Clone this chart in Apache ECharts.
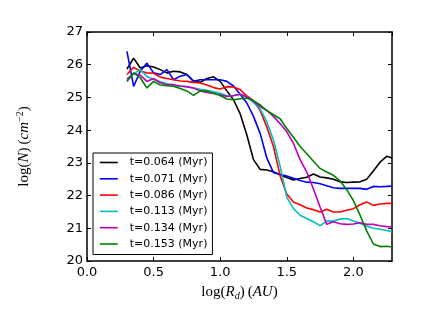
<!DOCTYPE html>
<html>
<head>
<meta charset="utf-8">
<script src="https://cdn.jsdelivr.net/npm/echarts@6/dist/echarts.min.js"></script>
<style>
  html, body { margin: 0; padding: 0; background: #fff; }
  #chart { width: 436px; height: 327px; }
</style>
</head>
<body>
<div id="chart"></div>
<script>
// log(R_d) sample points shared by all curves
var logR = [0.30, 0.35, 0.40, 0.45, 0.50, 0.55, 0.60, 0.65, 0.70, 0.75,
            0.80, 0.85, 0.90, 0.95, 1.00, 1.05, 1.10, 1.15, 1.20, 1.25,
            1.30, 1.35, 1.40, 1.45, 1.50, 1.55, 1.60, 1.65, 1.70, 1.75,
            1.80, 1.85, 1.90, 1.95, 2.00, 2.05, 2.10, 2.15, 2.20, 2.25, 2.29];

var seriesNames = ["t=0.064 (Myr)", "t=0.071 (Myr)", "t=0.086 (Myr)",
                   "t=0.113 (Myr)", "t=0.134 (Myr)", "t=0.153 (Myr)"];
var seriesColors = ["#000000", "#0000ff", "#ff0000", "#00bfbf", "#bf00bf", "#008000"];

var n064 = [25.87, 26.2, 25.9, 25.97, 25.93, 25.85, 25.75, 25.8, 25.78, 25.7,
            25.5, 25.46, 25.58, 25.63, 25.49, 25.2, 24.93, 24.5, 23.85, 23.1,
            22.8, 22.78, 22.73, 22.63, 22.55, 22.48, 22.52, 22.56, 22.66, 22.57,
            22.54, 22.5, 22.42, 22.4, 22.41, 22.42, 22.5, 22.75, 23.02, 23.2, 23.15];
var n071 = [26.41, 25.34, 25.8, 26.05, 25.75, 25.7, 25.85, 25.54, 25.65, 25.7,
            25.49, 25.54, 25.54, 25.54, 25.54, 25.49, 25.35, 25.1, 24.83, 24.42,
            23.9, 23.15, 22.7, 22.65, 22.6, 22.53, 22.46, 22.41, 22.4, 22.36,
            22.3, 22.24, 22.22, 22.22, 22.22, 22.22, 22.19, 22.28, 22.27, 22.28, 22.29];
var n086 = [25.7, 25.92, 25.8, 25.75, 25.74, 25.62, 25.58, 25.54, 25.5, 25.49,
            25.46, 25.44, 25.38, 25.3, 25.26, 25.33, 25.32, 25.24, 25.05, 24.9,
            24.6, 24.1, 23.5, 22.6, 22.05, 21.8, 21.72, 21.62, 21.57, 21.5,
            21.58, 21.5, 21.5, 21.55, 21.6, 21.72, 21.8, 21.7, 21.74, 21.76, 21.76];
var n113 = [25.54, 25.72, 25.85, 25.64, 25.55, 25.48, 25.42, 25.35, 25.34, 25.32,
            25.29, 25.25, 25.22, 25.17, 25.13, 25.05, 25.06, 25.1, 25.02, 24.85,
            24.65, 24.25, 23.7, 22.9, 21.95, 21.6, 21.4, 21.3, 21.2, 21.08,
            21.22, 21.22, 21.28, 21.3, 21.22, 21.15, 21.06, 21.0, 20.97, 20.93, 20.89];
var n134 = [25.56, 25.73, 25.68, 25.49, 25.58, 25.45, 25.39, 25.39, 25.35, 25.33,
            25.29, 25.2, 25.15, 25.12, 25.08, 25.03, 25.05, 25.1, 25.02, 24.88,
            24.72, 24.6, 24.42, 24.2, 23.95, 23.6, 23.1, 22.72, 22.2, 21.65,
            21.12, 21.2, 21.14, 21.12, 21.13, 21.17, 21.12, 21.12, 21.08, 21.05, 21.04];
var n153 = [25.49, 25.75, 25.6, 25.29, 25.49, 25.38, 25.36, 25.34, 25.27, 25.2,
            25.06, 25.2, 25.2, 25.13, 25.06, 24.95, 24.93, 24.96, 24.98, 24.9,
            24.77, 24.6, 24.47, 24.35, 24.05, 23.78, 23.5, 23.28, 23.05, 22.83,
            22.72, 22.62, 22.45, 22.18, 21.85, 21.4, 20.92, 20.52, 20.44, 20.45, 20.43];

var allN = [n064, n071, n086, n113, n134, n153];

var myChart = echarts.init(document.getElementById("chart"));

var series = allN.map(function (vals, k) {
  return {
    name: seriesNames[k],
    type: "line",
    symbol: "none",
    xAxisIndex: 0,
    yAxisIndex: 0,
    lineStyle: { color: seriesColors[k], width: 1.6 },
    itemStyle: { color: seriesColors[k] },
    data: logR.map(function (x, i) { return [x, vals[i]]; })
  };
});

var tickStyle = { inside: true, length: 4, lineStyle: { color: "#000", width: 1 } };
var lineStyle = { show: true, onZero: false, lineStyle: { color: "#000", width: 1.5 } };

var option = {
  backgroundColor: "#fff",
  animation: false,
  grid: { left: 87, right: 44, top: 32, bottom: 66 },
  legend: {
    orient: "vertical",
    left: 93,
    top: 153,
    data: seriesNames,
    backgroundColor: "#fff",
    borderColor: "#000",
    borderWidth: 1,
    borderRadius: 0,
    padding: [3, 5, 4, 6],
    itemWidth: 18,
    itemHeight: 10,
    itemGap: 3.3,
    itemStyle: { opacity: 0 },
    lineStyle: { width: 1.6 },
    textStyle: { fontFamily: "DejaVu Sans", fontSize: 11, color: "#000", lineHeight: 13, padding: [0, 0, 0, 7] }
  },
  xAxis: [
    {
      type: "value", position: "bottom", min: 0, max: 2.29, interval: 0.5,
      axisLine: lineStyle, axisTick: tickStyle, splitLine: { show: false },
      axisLabel: {
        fontFamily: "DejaVu Sans", fontSize: 13, color: "#000", margin: 5,
        showMaxLabel: false,
        formatter: function (v) { return v.toFixed(1); }
      },
      name: "{a|log(}{b|R}{s|d}{a|)\u2009(}{b|AU}{a|)}",
      nameLocation: "middle",
      nameGap: 22,
      nameTextStyle: {
        rich: {
          a: { fontFamily: "Liberation Serif", fontSize: 15, color: "#000", lineHeight: 18 },
          b: { fontFamily: "Liberation Serif", fontStyle: "italic", fontSize: 15, color: "#000", lineHeight: 18 },
          s: { fontFamily: "Liberation Serif", fontStyle: "italic", fontSize: 10, color: "#000", verticalAlign: "bottom", lineHeight: 18 }
        }
      }
    },
    {
      type: "value", position: "top", min: 0, max: 2.29, interval: 0.5,
      axisLine: lineStyle, axisTick: tickStyle, splitLine: { show: false },
      axisLabel: { show: false }
    }
  ],
  yAxis: [
    {
      type: "value", position: "left", min: 20, max: 27, interval: 1,
      axisLine: lineStyle, axisTick: tickStyle, splitLine: { show: false },
      axisLabel: { fontFamily: "DejaVu Sans", fontSize: 13, color: "#000", margin: 4 },
      name: "{a|log(}{b|N}{a|)\u2009(}{b|cm}{p|\u22122}{a|)}",
      nameLocation: "middle",
      nameRotate: 90,
      nameGap: 54,
      nameTextStyle: {
        rich: {
          a: { fontFamily: "Liberation Serif", fontSize: 15, color: "#000", lineHeight: 18 },
          b: { fontFamily: "Liberation Serif", fontStyle: "italic", fontSize: 15, color: "#000", lineHeight: 18 },
          p: { fontFamily: "Liberation Serif", fontSize: 10, color: "#000", verticalAlign: "top", lineHeight: 18 }
        }
      }
    },
    {
      type: "value", position: "right", min: 20, max: 27, interval: 1,
      axisLine: lineStyle, axisTick: tickStyle, splitLine: { show: false },
      axisLabel: { show: false }
    }
  ],
  series: series
};

myChart.setOption(option);
</script>
</body>
</html>
